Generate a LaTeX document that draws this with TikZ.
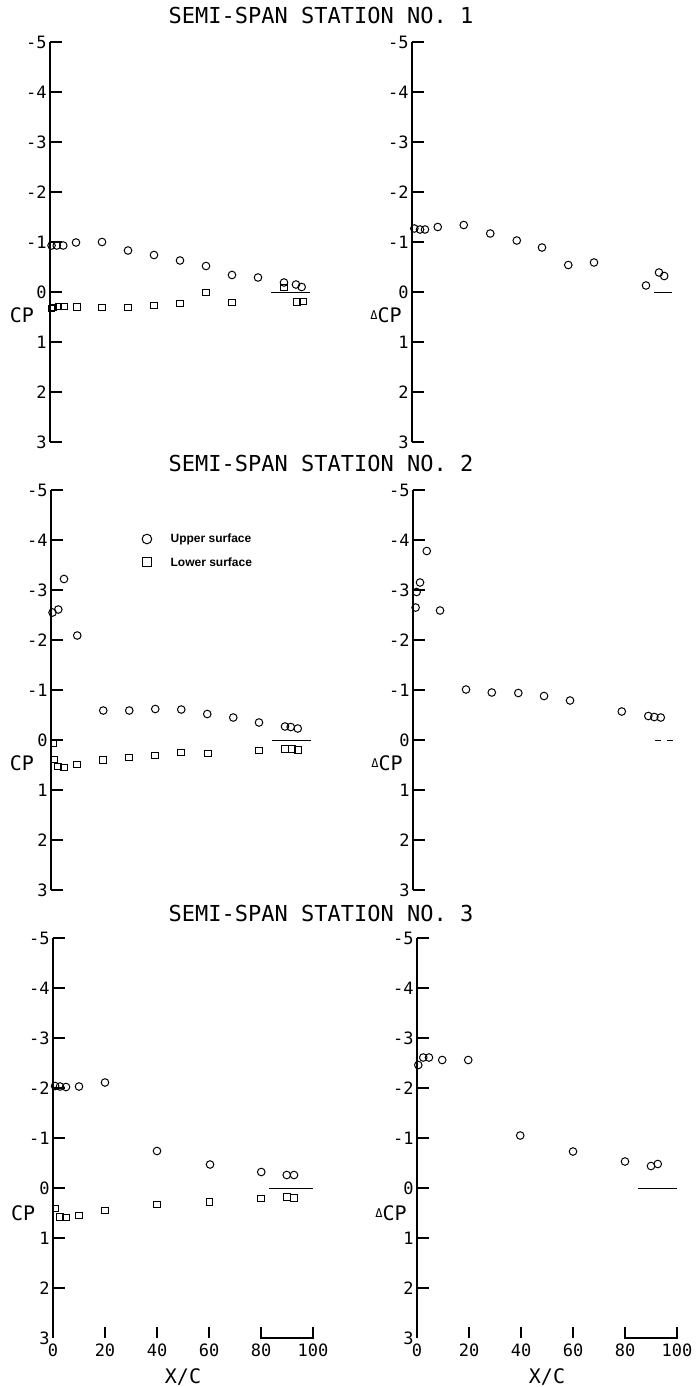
\documentclass[tikz,border=0pt]{standalone}
\usepackage{fontspec}
\setmainfont{DejaVu Sans Mono}
\newfontfamily\legendfont{Liberation Sans}
\usetikzlibrary{shapes,positioning}

\tikzstyle{upper} = [draw, circle, inner sep=0pt, minimum size=3.8pt, line width=0.5pt]
\tikzstyle{lower} = [draw, rectangle, inner sep=0pt, minimum size=3.3pt, line width=0.5pt]
\tikzstyle{axis} = [line width=0.65pt]
\tikzstyle{ticklab} = [inner sep=0pt, font=\fontsize{8.5}{8.5}\selectfont]
\tikzstyle{varlab} = [inner sep=0pt, font=\fontsize{10}{10}\selectfont]
\tikzstyle{heading} = [inner sep=0pt, font=\fontsize{11}{11}\selectfont]
\tikzstyle{legend} = [inner sep=0pt, font=\legendfont\bfseries\fontsize{6}{6}\selectfont]

% small delta in front of CP
\newcommand{\smalldelta}{\raisebox{1.5pt}{\fontsize{6}{6}\selectfont Δ}}

% vertical Cp axis of one panel, #1 = the ticks drawn
\newcommand{\cpaxis}[1]{%
	\draw[axis] (0,-5) -- (0,3);
	\foreach \c in {#1} \draw[axis] (0,\c) -- (4.6,\c);
	\foreach \c in {-5,...,3} \node[ticklab, left=1.5pt] (tick\c) at (0,\c) {\c};
}
% chord axis under the bottom panels
\newcommand{\xcaxis}{%
	\foreach \p in {20,40,60} \draw[axis] (\p,3) -- (\p,2.78);
	\draw[axis] (80,2.78) -- (80,3) -- (100,3) -- (100,2.78);
	\foreach \p in {0,20,...,100} \node[ticklab] (xc\p) at (\p,3.24) {\p};
	\node[varlab] (xclab) at (50,3.78) {X/C};
}

\begin{document}
\begin{tikzpicture}[x=0.5pt,y=-0.5pt]
	\useasboundingbox (0,0) rectangle (696,1387);

	% station headings
	\node[heading] (title1) at (321,15) {SEMI-SPAN STATION NO. 1};
	\node[heading] (title2) at (321,463) {SEMI-SPAN STATION NO. 2};
	\node[heading] (title3) at (321,913) {SEMI-SPAN STATION NO. 3};

	% station 1, CP
	\begin{scope}[shift={(50,292)},x=1.3pt,y=-25pt,name prefix=tl-]
		\cpaxis{-5,...,3}
		\node[varlab] (name) at (-10.8,0.46) {CP};
		\draw (85,0) -- (100,0);
		\foreach \x/\y [count=\i] in {0.6/-0.93,2.6/-0.93,5.1/-0.93,10/-0.99,20/-1.0,30/-0.83,40/-0.74,50/-0.63,60/-0.52,70/-0.34,80/-0.29,90/-0.19,94.6/-0.15,96.8/-0.1}
			\node[upper] (u\i) at (\x,\y) {};
		\foreach \x/\y [count=\i] in {0.6/0.33,1.4/0.31,3.2/0.29,5.4/0.29,10.3/0.3,20/0.31,30/0.31,40/0.27,50/0.23,60/0.01,70/0.21,90/-0.09,94.9/0.2,97.4/0.19}
			\node[lower] (l\i) at (\x,\y) {};
	\end{scope}

	% station 1, delta CP
	\begin{scope}[shift={(412,292)},x=1.3pt,y=-25pt,name prefix=tr-]
		\cpaxis{-5,...,3}
		\node[varlab] (name) at (-10,0.46) {\smalldelta CP};
		\draw (93,0) -- (100,0);
		\foreach \x/\y [count=\i] in {0.9/-1.27,3.1/-1.25,5/-1.25,9.9/-1.3,19.9/-1.34,30.1/-1.17,40.3/-1.03,50/-0.89,60.1/-0.54,70/-0.59,90/-0.13,95/-0.39,97/-0.32}
			\node[upper] (u\i) at (\x,\y) {};
	\end{scope}

	% station 2, CP
	\begin{scope}[shift={(51,740)},x=1.3pt,y=-25pt,name prefix=ml-]
		\cpaxis{-5,...,3}
		\node[varlab] (name) at (-11.2,0.46) {CP};
		\draw (85,0) -- (100,0);
		\foreach \x/\y [count=\i] in {0.6/-2.55,2.8/-2.61,5/-3.22,10.1/-2.09,20.1/-0.59,30.1/-0.59,40.1/-0.62,50.1/-0.61,60.1/-0.52,70.1/-0.45,80/-0.35,90/-0.27,92.2/-0.26,94.9/-0.23}
			\node[upper] (u\i) at (\x,\y) {};
		\foreach \x/\y [count=\i] in {0.9/0.07,1.2/0.39,2.8/0.53,5/0.55,10.1/0.49,20.1/0.4,30.1/0.35,40.1/0.31,50.1/0.25,60.3/0.27,80/0.21,90/0.18,92.6/0.18,95.1/0.2}
			\node[lower] (l\i) at (\x,\y) {};
		% legend
		\node[upper, minimum size=4.8pt] (legu) at (36.9,-4.02) {};
		\node[lower, minimum size=4.2pt] (legl) at (36.9,-3.56) {};
		\node[legend, right=9pt of legu] (legutext) {Upper surface};
		\node[legend, right=9.3pt of legl] (legltext) {Lower surface};
	\end{scope}

	% station 2, delta CP
	\begin{scope}[shift={(413,740)},x=1.3pt,y=-25pt,name prefix=mr-]
		\cpaxis{-5,...,3}
		\node[varlab] (name) at (-10,0.46) {\smalldelta CP};
		\draw[dashed] (93,0) -- (100,0);
		\foreach \x/\y [count=\i] in {1/-2.65,1.4/-2.96,2.7/-3.15,5.3/-3.78,10.4/-2.59,20.4/-1.01,30.3/-0.95,40.5/-0.94,50.4/-0.88,60.4/-0.79,80.3/-0.57,90.5/-0.48,92.8/-0.46,95.3/-0.45}
			\node[upper] (u\i) at (\x,\y) {};
	\end{scope}

	% station 3, CP
	\begin{scope}[shift={(53,1188)},x=1.3pt,y=-25pt,name prefix=bl-]
		\cpaxis{-5,...,2}
		\xcaxis
		\node[varlab] (name) at (-11.5,0.5) {CP};
		\draw (83,0) -- (100,0);
		\foreach \x/\y [count=\i] in {0.8/-2.04,2.7/-2.03,5/-2.02,10/-2.03,20/-2.11,40/-0.74,60.4/-0.47,80.1/-0.32,89.9/-0.26,92.7/-0.26}
			\node[upper] (u\i) at (\x,\y) {};
		\foreach \x/\y [count=\i] in {1/0.41,2.7/0.58,5/0.59,10.1/0.55,20/0.45,40/0.33,60.2/0.28,80.1/0.21,89.9/0.18,92.7/0.2}
			\node[lower] (l\i) at (\x,\y) {};
	\end{scope}

	% station 3, delta CP
	\begin{scope}[shift={(417,1188)},x=1.3pt,y=-25pt,name prefix=br-]
		\cpaxis{-5,...,2}
		\xcaxis
		\node[varlab] (name) at (-10,0.5) {\smalldelta CP};
		\draw (85,0) -- (100,0);
		\foreach \x/\y [count=\i] in {0.5/-2.46,2.4/-2.61,4.6/-2.61,9.7/-2.56,19.7/-2.56,39.7/-1.05,60/-0.73,80/-0.53,90/-0.44,92.6/-0.48}
			\node[upper] (u\i) at (\x,\y) {};
	\end{scope}
\end{tikzpicture}
\end{document}
